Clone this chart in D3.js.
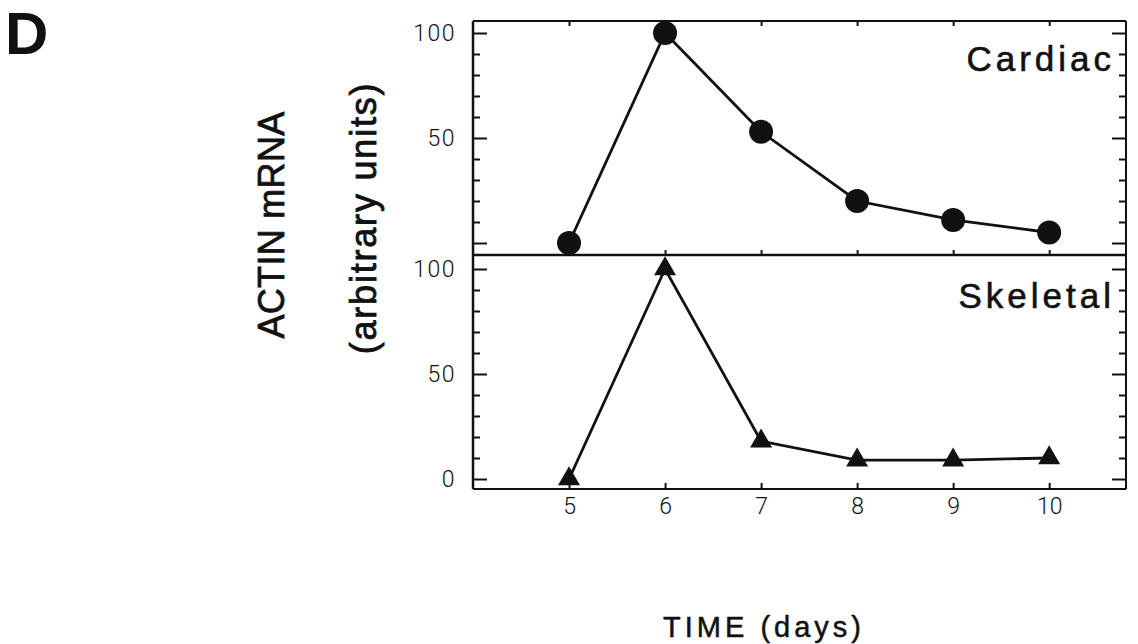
<!DOCTYPE html>
<html>
<head>
<meta charset="utf-8">
<script src="https://cdn.jsdelivr.net/npm/d3@7"></script>
<style>
  body { margin: 0; background: #fff; }
  svg { display: block; }
  .tick text { font-family: Roboto, "DejaVu Sans Condensed", sans-serif; font-weight: 300; }
</style>
</head>
<body>
<svg id="chart" width="1138" height="644"></svg>
<script>
// values
const days = [5, 6, 7, 8, 9, 10];
const cardiac = [0, 100, 53, 20, 11, 5];
const skeletal = [0, 100, 18, 9, 9, 10];
const yMajorTicks = [0, 50, 100];
const yMinorTicks = [10, 20, 30, 40, 60, 70, 80, 90];
const dayTicks = [5, 6, 7, 8, 9, 10];
const panelNames = ["Cardiac", "Skeletal"];

const svg = d3.select("#chart");

const left = 473, right = 1126;
const top0 = 21, mid = 255, bottom = 489;

const x = d3.scaleLinear().domain([4, 10.8]).range([left, right]);
const yTop = d3.scaleLinear().domain([0, 100]).range([243, 33]);
const yBot = d3.scaleLinear().domain([0, 100]).range([479, 269]);

function panel(y, y0, y1, values, marker, name, labelY, showZero) {
    const g = svg.append("g");

    // left axis, ticks pointing inward
    const labelled = g.append("g")
        .attr("transform", `translate(${left},0)`)
        .call(d3.axisLeft(y).tickValues(yMajorTicks).tickSize(-14).tickPadding(17))
        .call(a => a.select(".domain").remove());
    labelled.selectAll("text")
        .attr("font-size", 23)
        .attr("letter-spacing", 1.5)
        .attr("fill", "#111")
        .filter(d => d === 0 && !showZero)
        .remove();
    g.append("g")
        .attr("transform", `translate(${left},0)`)
        .call(d3.axisLeft(y).tickValues(yMinorTicks).tickSize(-7).tickFormat(""))
        .call(a => a.select(".domain").remove());

    // right side mirror ticks
    g.append("g")
        .attr("transform", `translate(${right},0)`)
        .call(d3.axisRight(y).tickValues(yMajorTicks).tickSize(-14).tickFormat(""))
        .call(a => a.select(".domain").remove());
    g.append("g")
        .attr("transform", `translate(${right},0)`)
        .call(d3.axisRight(y).tickValues(yMinorTicks).tickSize(-7).tickFormat(""))
        .call(a => a.select(".domain").remove());

    g.selectAll(".tick line").attr("stroke", "#111").attr("stroke-width", 2);

    // frame sides
    g.append("line").attr("x1", left).attr("x2", left).attr("y1", y0).attr("y2", y1)
        .attr("stroke", "#111").attr("stroke-width", 2.5);
    g.append("line").attr("x1", right).attr("x2", right).attr("y1", y0).attr("y2", y1)
        .attr("stroke", "#111").attr("stroke-width", 2);

    const pts = days.map((d, i) => [x(d), y(values[i])]);

    g.append("path")
        .datum(pts)
        .attr("d", d3.line())
        .attr("fill", "none")
        .attr("stroke", "#111")
        .attr("stroke-width", 2.8);

    g.selectAll(".mark")
        .data(pts)
        .enter()
        .append("path")
        .attr("class", "mark")
        .attr("transform", d => `translate(${d[0]},${d[1]})`)
        .attr("d", marker)
        .attr("fill", "#111");

    g.append("text")
        .attr("x", 1115)
        .attr("y", labelY)
        .attr("text-anchor", "end")
        .attr("font-family", "Liberation Sans, Arial, sans-serif")
        .attr("font-size", 35)
        .attr("letter-spacing", 4)
        .attr("fill", "#111")
        .attr("stroke", "#111")
        .attr("stroke-width", 0.6)
        .text(name);
}

panel(yTop, top0, mid, cardiac, d3.symbol(d3.symbolCircle, Math.PI * 12 * 12)(), panelNames[0], 71, false);
panel(yBot, mid, bottom, skeletal, d3.symbol(d3.symbolTriangle, 210)(), panelNames[1], 308, true);

// horizontal borders with day ticks
const hLines = [
    { y: top0, size: 5 },
    { y: mid, size: -5 },
    { y: bottom, size: -6 }
];
hLines.forEach(h => {
    const a = svg.append("g")
        .attr("transform", `translate(0,${h.y})`)
        .call(d3.axisBottom(x).tickValues(dayTicks).tickSize(h.size)
            .tickFormat(h.y === bottom ? d3.format("d") : ""));
    a.select(".domain")
        .attr("d", `M${left},0H${right}`)
        .attr("stroke", "#111")
        .attr("stroke-width", h.y === mid ? 2.5 : 2.2);
    a.selectAll(".tick line").attr("stroke", "#111").attr("stroke-width", 2);
    a.selectAll("text")
        .attr("y", 9)
        .attr("dy", "0.71em")
        .attr("font-size", 23)
        .attr("fill", "#111");
});

// panel letter
svg.append("text")
    .attr("x", 5)
    .attr("y", 54)
    .attr("font-family", "Liberation Sans, Arial, sans-serif")
    .attr("font-weight", "bold")
    .attr("font-size", 60)
    .attr("fill", "#111")
    .text("D");

// y axis titles
const yTitles = [
    { text: "ACTIN mRNA", x: 284, y: 225, ls: 0.3 },
    { text: "(arbitrary units)", x: 376, y: 218, ls: 1.8 }
];
svg.selectAll(".ytitle")
    .data(yTitles)
    .enter()
    .append("text")
    .attr("class", "ytitle")
    .attr("transform", d => `translate(${d.x},${d.y}) rotate(-90)`)
    .attr("text-anchor", "middle")
    .attr("font-family", "Liberation Sans, Arial, sans-serif")
    .attr("font-size", 36)
    .attr("letter-spacing", d => d.ls)
    .attr("fill", "#111")
    .attr("stroke", "#111")
    .attr("stroke-width", 0.8)
    .text(d => d.text);

// x axis title
svg.append("text")
    .attr("x", 764)
    .attr("y", 637)
    .attr("text-anchor", "middle")
    .attr("font-family", "Liberation Sans, Arial, sans-serif")
    .attr("font-size", 29)
    .attr("letter-spacing", 4)
    .attr("fill", "#111")
    .attr("stroke", "#111")
    .attr("stroke-width", 0.5)
    .text("TIME (days)");
</script>
</body>
</html>
